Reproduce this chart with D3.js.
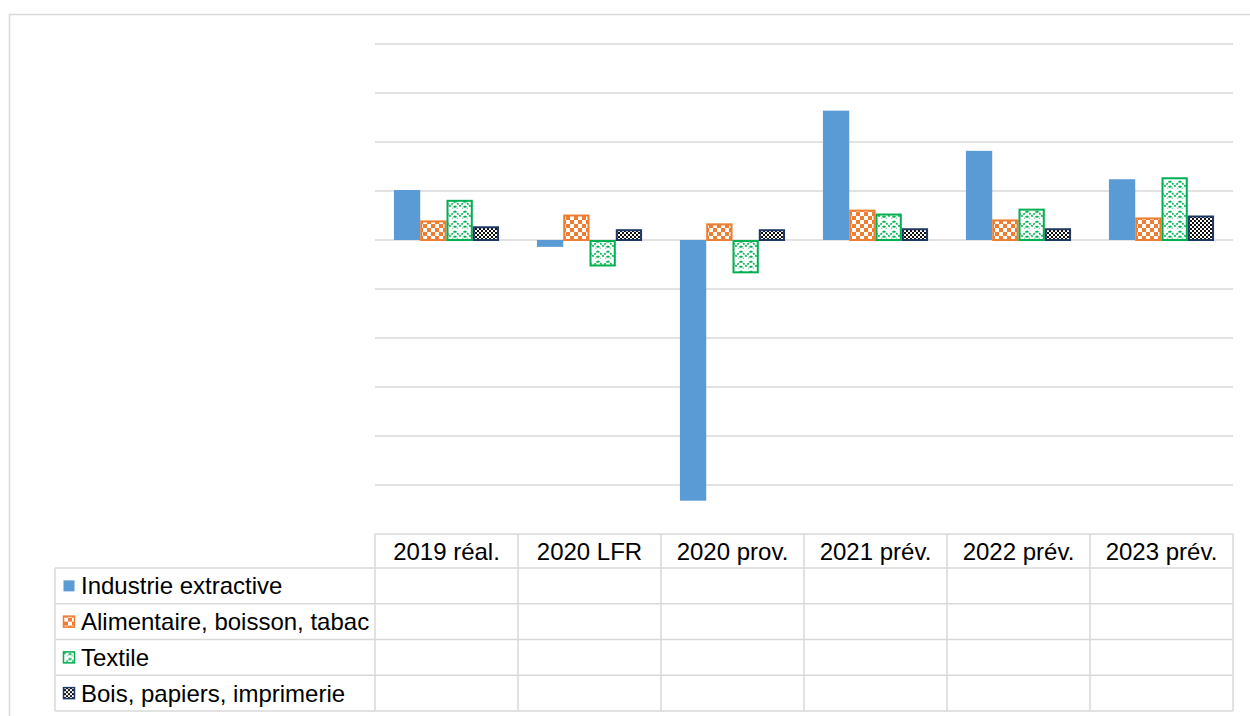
<!DOCTYPE html>
<html>
<head>
<meta charset="utf-8">
<script src="https://cdn.jsdelivr.net/npm/d3@7"></script>
<style>
  body { margin: 0; background: #fff; }
  text { font-family: "Liberation Sans", Arial, sans-serif; fill: #000; }
</style>
</head>
<body>
<script>
var width = 1250, height = 716;

var categories = ["2019 réal.", "2020 LFR", "2020 prov.", "2021 prév.", "2022 prév.", "2023 prév."];
var series = ["Industrie extractive", "Alimentaire, boisson, tabac", "Textile", "Bois, papiers, imprimerie"];

var extractive = [5.1, -0.7, -26.6, 13.2, 9.1, 6.2];
var alimentaire = [2.0, 2.6, 1.7, 3.1, 2.1, 2.3];
var textile = [4.1, -2.6, -3.3, 2.7, 3.2, 6.4];
var bois = [1.4, 1.1, 1.1, 1.2, 1.2, 2.5];

var yTicks = [-25, -20, -15, -10, -5, 0, 5, 10, 15, 20];

var values = [extractive, alimentaire, textile, bois];

var svg = d3.select("body")
            .append("svg")
            .attr("width", width)
            .attr("height", height);

var defs = svg.append("defs");

// large checker board (orange)
var pOrange = defs.append("pattern")
                  .attr("id", "pat-orange")
                  .attr("patternUnits", "userSpaceOnUse")
                  .attr("width", 8).attr("height", 8);
pOrange.append("rect").attr("width", 8).attr("height", 8).attr("fill", "#fff");
pOrange.append("rect").attr("width", 4).attr("height", 4).attr("fill", "#ED7D31");
pOrange.append("rect").attr("x", 4).attr("y", 4).attr("width", 4).attr("height", 4).attr("fill", "#ED7D31");

// zig zag (green)
var pGreen = defs.append("pattern")
                 .attr("id", "pat-green")
                 .attr("patternUnits", "userSpaceOnUse")
                 .attr("width", 10).attr("height", 10);
pGreen.append("rect").attr("width", 10).attr("height", 10).attr("fill", "#fff");
pGreen.append("path")
      .attr("d", "M0,1 L5,6 L10,1 M0,6 L2.5,8.5 M10,6 L7.5,8.5")
      .attr("fill", "none")
      .attr("stroke", "#00B050")
      .attr("stroke-width", 1.6)
      .attr("stroke-dasharray", "2,1");

// small checker board (navy)
var pNavy = defs.append("pattern")
                .attr("id", "pat-navy")
                .attr("patternUnits", "userSpaceOnUse")
                .attr("width", 4).attr("height", 4);
pNavy.append("rect").attr("width", 4).attr("height", 4).attr("fill", "#fff");
pNavy.append("rect").attr("width", 2).attr("height", 2).attr("fill", "#111");
pNavy.append("rect").attr("x", 2).attr("y", 2).attr("width", 2).attr("height", 2).attr("fill", "#111");

var fills = ["#5B9BD5", "url(#pat-orange)", "url(#pat-green)", "url(#pat-navy)"];
var strokes = ["none", "#ED7D31", "#00B050", "#203864"];

// outer chart frame
svg.append("rect")
   .attr("x", 9.5).attr("y", 14.5)
   .attr("width", 1300).attr("height", 800)
   .attr("fill", "none")
   .attr("stroke", "#D9D9D9")
   .attr("stroke-width", 1.5);

var plotLeft = 375, plotRight = 1233, plotTop = 44, plotBottom = 534;

var x0 = d3.scaleBand()
           .domain(categories)
           .range([plotLeft, plotRight])
           .padding(0);

var x1 = d3.scaleBand()
           .domain(d3.range(series.length))
           .range([0, x0.bandwidth()])
           .paddingInner(0)
           .paddingOuter(0.72);

var y = d3.scaleLinear()
          .domain([-30, 20])
          .range([plotBottom, plotTop]);

// gridlines
svg.append("g")
   .selectAll("line")
   .data(yTicks)
   .enter()
   .append("line")
   .attr("x1", plotLeft).attr("x2", plotRight)
   .attr("y1", function(d) { return y(d); })
   .attr("y2", function(d) { return y(d); })
   .attr("stroke", "#D9D9D9")
   .attr("stroke-width", 1.5);

// bars
var groups = svg.append("g")
                .selectAll("g")
                .data(categories)
                .enter()
                .append("g")
                .attr("transform", function(d) { return "translate(" + x0(d) + ",0)"; });

groups.selectAll("rect")
      .data(function(d, i) { return values.map(function(s, j) { return {s: j, v: s[i]}; }); })
      .enter()
      .append("rect")
      .attr("x", function(d) { return x1(d.s) + (d.s == 0 ? 0 : 1); })
      .attr("width", function(d) { return x1.bandwidth() - (d.s == 0 ? 0 : 2); })
      .attr("y", function(d) { return Math.min(y(d.v), y(0)) + (d.s == 0 ? 0 : 1); })
      .attr("height", function(d) { return Math.abs(y(d.v) - y(0)) - (d.s == 0 ? 0 : 1); })
      .attr("fill", function(d) { return fills[d.s]; })
      .attr("stroke", function(d) { return strokes[d.s]; })
      .attr("stroke-width", 2);

// data table
var tableLeft = 55, headTop = 534, rowsTop = 568, tableBottom = 711;

var rows = d3.scaleBand()
             .domain(series)
             .range([rowsTop, tableBottom]);

var table = svg.append("g")
               .attr("stroke", "#D9D9D9")
               .attr("stroke-width", 1.5);

table.append("line")
     .attr("x1", plotLeft).attr("x2", plotRight)
     .attr("y1", headTop).attr("y2", headTop);

table.selectAll(".hline")
     .data(series.map(function(s) { return rows(s); }).concat([tableBottom]))
     .enter()
     .append("line")
     .attr("x1", tableLeft).attr("x2", plotRight)
     .attr("y1", function(d) { return d; })
     .attr("y2", function(d) { return d; });

table.append("line")
     .attr("x1", tableLeft).attr("x2", tableLeft)
     .attr("y1", rowsTop).attr("y2", tableBottom);

table.selectAll(".vline")
     .data(categories.map(function(c) { return x0(c); }).concat([plotRight]))
     .enter()
     .append("line")
     .attr("x1", function(d) { return d; })
     .attr("x2", function(d) { return d; })
     .attr("y1", headTop).attr("y2", tableBottom);

svg.append("g")
   .selectAll("text")
   .data(categories)
   .enter()
   .append("text")
   .attr("x", function(d) { return x0(d) + x0.bandwidth() / 2; })
   .attr("y", (headTop + rowsTop) / 2 + 8.5)
   .attr("text-anchor", "middle")
   .attr("font-size", "24px")
   .text(function(d) { return d; });

var legend = svg.append("g")
                .selectAll("g")
                .data(series)
                .enter()
                .append("g")
                .attr("transform", function(d) { return "translate(0," + (rows(d) + rows.bandwidth() / 2) + ")"; });

legend.append("rect")
      .attr("x", 63.5).attr("y", -5.5)
      .attr("width", 11).attr("height", 11)
      .attr("fill", function(d, i) { return fills[i]; })
      .attr("stroke", function(d, i) { return i == 0 ? "none" : strokes[i]; })
      .attr("stroke-width", 1.5);

legend.append("text")
      .attr("x", 81)
      .attr("y", 8.5)
      .attr("font-size", "24px")
      .text(function(d) { return d; });
</script>
</body>
</html>
